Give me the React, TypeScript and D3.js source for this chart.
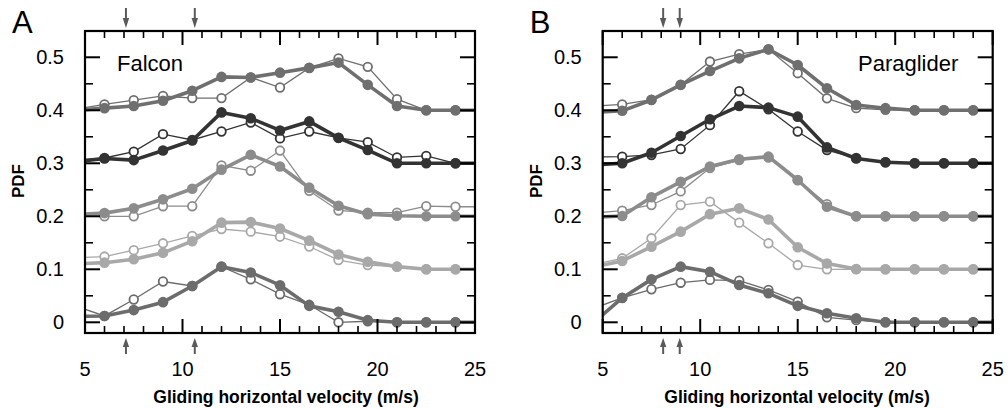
import React from "react";
import * as d3 from "d3";

const velocities = [4.5, 6, 7.5, 9, 10.5, 12, 13.5, 15, 16.5, 18, 19.5, 21, 22.5, 24, 25.5];

// Panel A (Falcon) – groups offset by 0.1 each, thick = filled markers, thin = hollow markers
const falconG4Thick = [0.400, 0.404, 0.408, 0.418, 0.437, 0.463, 0.462, 0.471, 0.480, 0.490, 0.448, 0.408, 0.400, 0.400, 0.400];
const falconG4Thin = [0.402, 0.411, 0.419, 0.427, 0.423, 0.423, 0.462, 0.443, 0.480, 0.498, 0.482, 0.421, 0.400, 0.400, 0.400];
const falconG3Thick = [0.303, 0.309, 0.306, 0.324, 0.343, 0.396, 0.385, 0.362, 0.379, 0.348, 0.325, 0.300, 0.300, 0.300, 0.300];
const falconG3Thin = [0.305, 0.310, 0.322, 0.355, 0.344, 0.360, 0.377, 0.347, 0.360, 0.348, 0.340, 0.311, 0.314, 0.300, 0.300];
const falconG2Thick = [0.203, 0.206, 0.215, 0.232, 0.252, 0.288, 0.316, 0.294, 0.254, 0.220, 0.204, 0.201, 0.200, 0.200, 0.200];
const falconG2Thin = [0.200, 0.200, 0.200, 0.219, 0.219, 0.296, 0.286, 0.324, 0.248, 0.211, 0.207, 0.207, 0.219, 0.218, 0.218];
const falconG1Thick = [0.110, 0.1125, 0.119, 0.131, 0.153, 0.188, 0.189, 0.177, 0.154, 0.128, 0.114, 0.105, 0.100, 0.100, 0.100];
const falconG1Thin = [0.122, 0.124, 0.136, 0.149, 0.163, 0.176, 0.171, 0.1615, 0.143, 0.1175, 0.108, 0.105, 0.100, 0.100, 0.100];
const falconG0Thick = [0.011, 0.012, 0.023, 0.038, 0.0685, 0.105, 0.094, 0.070, 0.031, 0.020, 0.004, 0.000, 0.000, 0.000, 0.000];
const falconG0Thin = [0.031, 0.012, 0.043, 0.077, 0.0685, 0.105, 0.081, 0.053, 0.033, 0.000, 0.002, 0.000, 0.000, 0.000, 0.000];

// Panel B (Paraglider)
const paraG4Thick = [0.396, 0.399, 0.4195, 0.448, 0.474, 0.498, 0.515, 0.4855, 0.4415, 0.410, 0.404, 0.400, 0.400, 0.400, 0.400];
const paraG4Thin = [0.408, 0.411, 0.420, 0.448, 0.492, 0.506, 0.515, 0.470, 0.4226, 0.404, 0.401, 0.400, 0.400, 0.400, 0.400];
const paraG3Thick = [0.297, 0.300, 0.320, 0.3515, 0.383, 0.408, 0.405, 0.388, 0.330, 0.309, 0.302, 0.300, 0.300, 0.300, 0.300];
const paraG3Thin = [0.312, 0.3125, 0.3157, 0.327, 0.372, 0.436, 0.402, 0.360, 0.325, 0.310, 0.302, 0.300, 0.300, 0.300, 0.300];
const paraG2Thick = [0.198, 0.2006, 0.236, 0.265, 0.294, 0.3075, 0.3125, 0.2685, 0.218, 0.200, 0.200, 0.200, 0.200, 0.200, 0.200];
const paraG2Thin = [0.206, 0.2106, 0.2213, 0.247, 0.291, 0.306, 0.311, 0.268, 0.223, 0.200, 0.200, 0.200, 0.200, 0.200, 0.200];
const paraG1Thick = [0.104, 0.1157, 0.1427, 0.171, 0.204, 0.215, 0.194, 0.1415, 0.111, 0.1006, 0.100, 0.100, 0.100, 0.100, 0.100];
const paraG1Thin = [0.109, 0.1207, 0.1585, 0.2213, 0.2276, 0.188, 0.149, 0.108, 0.100, 0.100, 0.100, 0.100, 0.100, 0.100, 0.100];
const paraG0Thick = [-0.002, 0.046, 0.081, 0.105, 0.0955, 0.0704, 0.0547, 0.031, 0.017, 0.0075, 0.000, 0.000, 0.000, 0.000, 0.000];
const paraG0Thin = [0.026, 0.046, 0.0623, 0.0747, 0.080, 0.0785, 0.061, 0.039, 0.0094, 0.004, 0.000, 0.000, 0.000, 0.000, 0.000];

const groupColors = ["#6c6c6c", "#a8a8a8", "#8c8c8c", "#333333", "#6f6f6f"];

const xMajorTicks = [5, 10, 15, 20, 25];
const yMajorTicks = [0, 0.1, 0.2, 0.3, 0.4, 0.5];
const yTickLabels = ["0", "0.1", "0.2", "0.3", "0.4", "0.5"];

const falconArrows = [7.1, 10.63];
const paraArrows = [8.1, 8.95];

const xTitle = "Gliding horizontal velocity (m/s)";

type Series = { thick: number[]; thin: number[] };

const falconSeries: Series[] = [
  { thick: falconG0Thick, thin: falconG0Thin },
  { thick: falconG1Thick, thin: falconG1Thin },
  { thick: falconG2Thick, thin: falconG2Thin },
  { thick: falconG3Thick, thin: falconG3Thin },
  { thick: falconG4Thick, thin: falconG4Thin },
];
const paraSeries: Series[] = [
  { thick: paraG0Thick, thin: paraG0Thin },
  { thick: paraG1Thick, thin: paraG1Thin },
  { thick: paraG2Thick, thin: paraG2Thin },
  { thick: paraG3Thick, thin: paraG3Thin },
  { thick: paraG4Thick, thin: paraG4Thin },
];

const FONT = "'Liberation Sans', Arial, Helvetica, sans-serif";

function Panel(props: {
  left: number;
  letter: string;
  name: string;
  nameX: number;
  titleX: number;
  series: Series[];
  arrows: number[];
  id: string;
}) {
  const { left, letter, name, nameX, titleX, series, arrows, id } = props;
  const top = 31;
  const bottom = 333;
  const width = 390;
  const x = d3.scaleLinear().domain([5, 25]).range([left, left + width]);
  const y = d3.scaleLinear().domain([-0.0202, 0.5496]).range([bottom, top]);
  const line = d3
    .line<number>()
    .x((_, i) => x(velocities[i]))
    .y((v) => y(v));

  const xMinor = d3.range(6, 25, 1).filter((v) => v % 5 !== 0);
  const yMinor = [0.05, 0.15, 0.25, 0.35, 0.45];
  const right = left + width;
  const arrowColor = "#5a5a5a";

  return (
    <g>
      <defs>
        <clipPath id={id}>
          <rect x={left} y={top} width={width} height={bottom - top} />
        </clipPath>
      </defs>
      {/* panel letter */}
      <text x={left - 73} y={33} fontSize={31} fontFamily={FONT}>
        {letter}
      </text>
      {/* data: thin/hollow first, thick/filled on top */}
      <g clipPath={`url(#${id})`}>
        {series.map((s, gi) => (
          <g key={gi}>
            <path d={line(s.thin) || ""} fill="none" stroke={groupColors[gi]} strokeWidth={1.3} />
            {s.thin.map((v, i) => (
              <circle key={"h" + i} cx={x(velocities[i])} cy={y(v)} r={4.3} fill="white" stroke={groupColors[gi]} strokeWidth={1.8} />
            ))}
            <path d={line(s.thick) || ""} fill="none" stroke={groupColors[gi]} strokeWidth={3.6} strokeLinejoin="round" />
            {s.thick.map((v, i) => (
              <circle key={"f" + i} cx={x(velocities[i])} cy={y(v)} r={5.3} fill={groupColors[gi]} />
            ))}
          </g>
        ))}
      </g>
      {/* frame */}
      <rect x={left} y={top} width={width} height={bottom - top} fill="none" stroke="#000" strokeWidth={2.2} />
      {/* x ticks */}
      {xMajorTicks.map((t) => (
        <g key={"xm" + t}>
          <line x1={x(t)} x2={x(t)} y1={top} y2={top + 14} stroke="#000" strokeWidth={2} />
          <line x1={x(t)} x2={x(t)} y1={bottom} y2={bottom - 14} stroke="#000" strokeWidth={2} />
          <text x={x(t)} y={376} fontSize={20} fontFamily={FONT} textAnchor="middle">
            {t}
          </text>
        </g>
      ))}
      {xMinor.map((t) => (
        <g key={"xn" + t}>
          <line x1={x(t)} x2={x(t)} y1={top} y2={top + 7} stroke="#000" strokeWidth={1.6} />
          <line x1={x(t)} x2={x(t)} y1={bottom} y2={bottom - 7} stroke="#000" strokeWidth={1.6} />
        </g>
      ))}
      {/* y ticks */}
      {yMajorTicks.map((t, i) => (
        <g key={"ym" + t}>
          <line x1={left} x2={left + 15} y1={y(t)} y2={y(t)} stroke="#000" strokeWidth={2} />
          <line x1={right} x2={right - 15} y1={y(t)} y2={y(t)} stroke="#000" strokeWidth={2} />
          <text x={left - 21} y={y(t) + 7} fontSize={20} fontFamily={FONT} textAnchor="end">
            {yTickLabels[i]}
          </text>
        </g>
      ))}
      {yMinor.map((t) => (
        <g key={"yn" + t}>
          <line x1={left} x2={left + 8} y1={y(t)} y2={y(t)} stroke="#000" strokeWidth={1.6} />
          <line x1={right} x2={right - 8} y1={y(t)} y2={y(t)} stroke="#000" strokeWidth={1.6} />
        </g>
      ))}
      {/* arrows */}
      {arrows.map((a, i) => {
        const ax = x(a);
        return (
          <g key={"ar" + i} fill={arrowColor} stroke="none">
            <line x1={ax} x2={ax} y1={8} y2={20} stroke={arrowColor} strokeWidth={2} />
            <path d={`M${ax - 3.2},18 L${ax + 3.2},18 L${ax},28 Z`} />
            <line x1={ax} x2={ax} y1={345} y2={354} stroke={arrowColor} strokeWidth={2} />
            <path d={`M${ax - 3.2},347 L${ax + 3.2},347 L${ax},338 Z`} />
          </g>
        );
      })}
      {/* labels */}
      <text x={nameX} y={71} fontSize={22} fontFamily={FONT}>
        {name}
      </text>
      <text
        transform={`translate(${left - 61},${181}) rotate(-90)`}
        fontSize={17}
        fontWeight="bold"
        fontFamily={FONT}
        textAnchor="middle"
      >
        PDF
      </text>
      <text x={titleX} y={403} fontSize={17.5} fontWeight="bold" fontFamily={FONT} textAnchor="middle">
        {xTitle}
      </text>
    </g>
  );
}

export default function App() {
  return (
    <svg
      width={1008}
      height={409}
      style={{ position: "absolute", left: 0, top: 0, background: "white" }}
    >
      <rect x={0} y={0} width={1008} height={409} fill="white" />
      <Panel left={85} letter="A" name="Falcon" nameX={117} titleX={286} series={falconSeries} arrows={falconArrows} id="clipA" />
      <Panel left={602.7} letter="B" name="Paraglider" nameX={858} titleX={797} series={paraSeries} arrows={paraArrows} id="clipB" />
    </svg>
  );
}
